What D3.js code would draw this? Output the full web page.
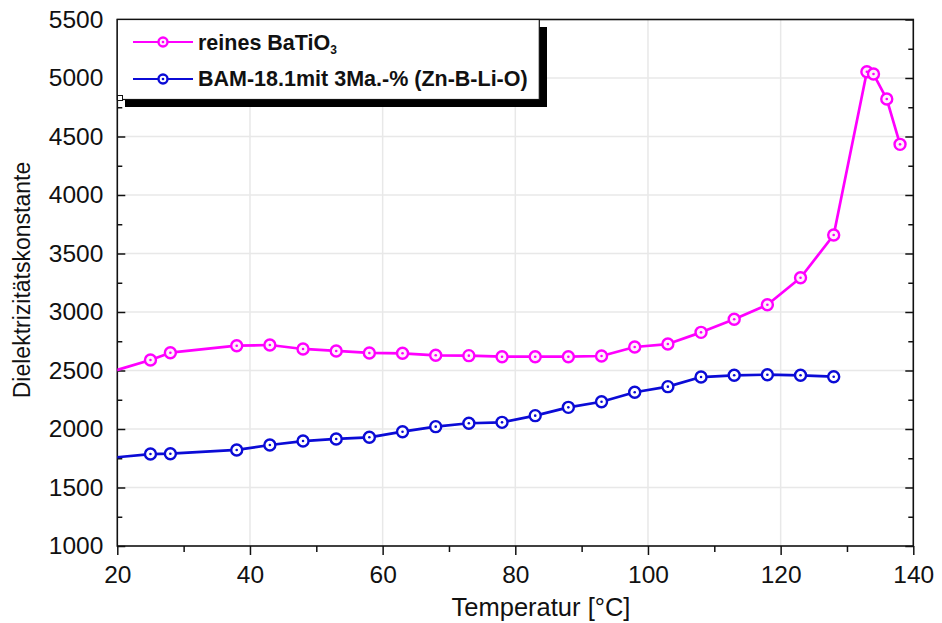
<!DOCTYPE html>
<html>
<head>
<meta charset="utf-8">
<script src="https://cdn.jsdelivr.net/npm/d3@7"></script>
<style>
  html, body { margin: 0; padding: 0; background: #fff; }
  svg { display: block; font-family: "Liberation Sans", Arial, sans-serif; }
</style>
</head>
<body>
<svg id="chart" width="942" height="623"></svg>
<script>
// ---- data ----
const tempPure = [18, 25, 28, 38, 43, 48, 53, 58, 63, 68, 73, 78, 83, 88, 93, 98, 103, 108, 113, 118, 123, 128, 133, 134, 136, 138];
const valPure  = [2471, 2590, 2652, 2712, 2718, 2684, 2667, 2650, 2647, 2630, 2627, 2618, 2618, 2618, 2624, 2701, 2726, 2826, 2938, 3062, 3293, 3658, 5054, 5034, 4820, 4433];
const tempBam  = [18, 25, 28, 38, 43, 48, 53, 58, 63, 68, 73, 78, 83, 88, 93, 98, 103, 108, 113, 118, 123, 128];
const valBam   = [1748, 1786, 1789, 1821, 1863, 1897, 1915, 1929, 1977, 2020, 2049, 2057, 2114, 2185, 2233, 2314, 2362, 2444, 2459, 2464, 2459, 2447];
const xTicks = [20, 40, 60, 80, 100, 120, 140];
const xMinorTicks = [30, 50, 70, 90, 110, 130];
const yTicks = [1000, 1500, 2000, 2500, 3000, 3500, 4000, 4500, 5000, 5500];
const yMinorTicks = [1250, 1750, 2250, 2750, 3250, 3750, 4250, 4750, 5250];
const seriesNames = ["reines BaTiO", "BAM-18.1mit 3Ma.-% (Zn-B-Li-O)"];
const seriesColors = ["#ff00ff", "#0b0bd6"];
const markerFills = ["#fff0fc", "#ffffff"];
const xTitle = "Temperatur [°C]";
const yTitle = "Dielektrizitätskonstante";

// ---- layout ----
const L = 117.3, R = 913.3, T = 19.5, B = 546;
const svg = d3.select("#chart");
const x = d3.scaleLinear().domain([20, 140]).range([L, R]);
const y = d3.scaleLinear().domain([1000, 5500]).range([B, T]);

// grid
const grid = svg.append("g");
grid.selectAll("line.gx").data(xTicks.slice(1, -1)).join("line")
  .attr("x1", d => x(d)).attr("x2", d => x(d)).attr("y1", T).attr("y2", B)
  .attr("stroke", "#e8e8e8").attr("stroke-width", 1.5);
grid.selectAll("line.gy").data(yTicks.slice(1, -1)).join("line")
  .attr("y1", d => y(d)).attr("y2", d => y(d)).attr("x1", L).attr("x2", R)
  .attr("stroke", "#e8e8e8").attr("stroke-width", 1.5);

// axes
const axisColor = "#111";
function styleAxis(g) {
  g.select(".domain").remove();
  g.selectAll(".tick line").attr("stroke", axisColor).attr("stroke-width", 1.5);
}
// bottom: outward ticks
const xAxis = svg.append("g").attr("transform", `translate(0,${B})`)
  .call(d3.axisBottom(x).tickValues(xTicks).tickSize(9).tickPadding(11).tickFormat(d3.format("d")));
styleAxis(xAxis);
xAxis.selectAll("text").attr("font-size", 24.5).attr("fill", "#111")
  .attr("font-family", "Liberation Sans, Arial, sans-serif");
const xMinor = svg.append("g").attr("transform", `translate(0,${B})`)
  .call(d3.axisBottom(x).tickValues(xMinorTicks).tickSize(6).tickFormat(""));
styleAxis(xMinor);

// left: inward ticks
const yAxis = svg.append("g").attr("transform", `translate(${L},0)`)
  .call(d3.axisLeft(y).tickValues(yTicks).tickSize(-8).tickPadding(14).tickFormat(d3.format("d")));
styleAxis(yAxis);
yAxis.selectAll("text").attr("font-size", 24.5).attr("fill", "#111").attr("x", -14)
  .attr("font-family", "Liberation Sans, Arial, sans-serif");
const yMinor = svg.append("g").attr("transform", `translate(${L},0)`)
  .call(d3.axisLeft(y).tickValues(yMinorTicks).tickSize(-5).tickFormat(""));
styleAxis(yMinor);

// right: inward ticks
const yRight = svg.append("g").attr("transform", `translate(${R},0)`)
  .call(d3.axisRight(y).tickValues(yTicks).tickSize(-8).tickFormat(""));
styleAxis(yRight);
const yRightMinor = svg.append("g").attr("transform", `translate(${R},0)`)
  .call(d3.axisRight(y).tickValues(yMinorTicks).tickSize(-5).tickFormat(""));
styleAxis(yRightMinor);

// frame
svg.append("rect").attr("x", L).attr("y", T).attr("width", R - L).attr("height", B - T)
  .attr("fill", "none").attr("stroke", axisColor).attr("stroke-width", 1.6);

// clip
svg.append("clipPath").attr("id", "plotclip").append("rect")
  .attr("x", L).attr("y", T).attr("width", R - L).attr("height", B - T);

const plot = svg.append("g").attr("clip-path", "url(#plotclip)");
const line = d3.line().x(d => x(d[0])).y(d => y(d[1]));
const series = [
  d3.zip(tempPure, valPure),
  d3.zip(tempBam, valBam)
];
series.forEach((pts, i) => {
  plot.append("path").datum(pts).attr("d", line)
    .attr("fill", "none").attr("stroke", seriesColors[i]).attr("stroke-width", 2.7)
    .attr("stroke-linejoin", "round");
});
function drawMarker(g, cx, cy, i, r) {
  g.append("circle").attr("cx", cx).attr("cy", cy).attr("r", r)
    .attr("fill", markerFills[i]).attr("stroke", seriesColors[i]).attr("stroke-width", 2.4);
  g.append("circle").attr("cx", cx).attr("cy", cy).attr("r", 1.3).attr("fill", seriesColors[i]);
}
series.forEach((pts, i) => {
  pts.forEach(p => drawMarker(plot, x(p[0]), y(p[1]), i, 5.5));
});

// axis titles
svg.append("text").attr("x", 541).attr("y", 616).attr("text-anchor", "middle")
  .attr("font-size", 25.5).attr("fill", "#111").text(xTitle);
svg.append("text").attr("transform", `translate(30,${280}) rotate(-90)`)
  .attr("text-anchor", "middle").attr("font-size", 23).attr("fill", "#111").text(yTitle);

// legend
const lg = svg.append("g");
lg.append("rect").attr("x", 125).attr("y", 27).attr("width", 422).attr("height", 80).attr("fill", "#000");
lg.append("rect").attr("x", 117.3).attr("y", 19.5).attr("width", 422).attr("height", 80)
  .attr("fill", "#fff").attr("stroke", "#111").attr("stroke-width", 1.2);
lg.append("rect").attr("x", 117.5).attr("y", 95.5).attr("width", 5).attr("height", 5)
  .attr("fill", "#fff").attr("stroke", "#111").attr("stroke-width", 1);
const rowsY = [42, 79];
const baseY = [50, 86];
seriesNames.forEach((name, i) => {
  lg.append("line").attr("x1", 133).attr("x2", 193).attr("y1", rowsY[i]).attr("y2", rowsY[i])
    .attr("stroke", seriesColors[i]).attr("stroke-width", 2);
  drawMarker(lg, 163, rowsY[i], i, 4.5);
  const t = lg.append("text").attr("x", 198).attr("y", baseY[i])
    .attr("font-size", 21.5).attr("font-weight", "bold").attr("fill", "#111").text(name);
  if (i === 0) {
    t.append("tspan").attr("font-size", 12).attr("dy", 4).text("3");
  }
});
</script>
</body>
</html>
